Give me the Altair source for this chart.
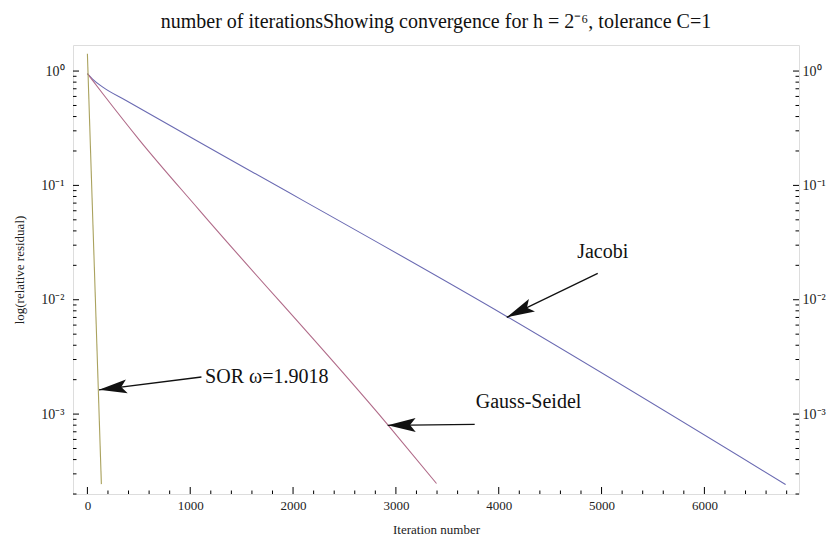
import math
import altair as alt
import pandas as pd

# ---------------- data ----------------
jacobi_it = [0, 50, 150, 380, 1030, 4074, 6790]
jacobi_res = [0.95, 0.851, 0.724, 0.550, 0.256, 0.00718, 0.000242]

gs_it = [0, 152, 508, 1090, 2924, 3395]
gs_res = [0.95, 0.630, 0.248, 0.0605, 0.00080, 0.000247]

sor_it = [0, 136]
sor_res = [1.42, 0.000244]

# annotations (data coordinates)
ann_text = ["Jacobi", "Gauss-Seidel", "SOR ω=1.9018"]
ann_text_it = [5011, 4290, 1744]
ann_text_res = [0.0260, 0.001265, 0.00209]
ann_tail_it = [4963, 3766, 1109]
ann_tail_res = [0.0170, 0.000813, 0.00211]
ann_tip_it = [4078, 2920, 113]
ann_tip_res = [0.00701, 0.000797, 0.00163]

xtick_major = [0, 1000, 2000, 3000, 4000, 5000, 6000]
xtick_minor = [v for v in range(200, 7000, 200) if v % 1000 != 0]
ytick_major = [1, 0.1, 0.01, 0.001]
ytick_labels = ["10⁰", "10⁻¹", "10⁻²", "10⁻³"]
ytick_minor = [k * 10.0 ** e for e in range(-4, 1) for k in range(2, 10)
               if 2.0e-4 <= k * 10.0 ** e <= 1.69]

title_text = "number of iterationsShowing convergence for h = 2⁻⁶, tolerance C=1"

# ---------------- layout ----------------
W, H = 726, 449
XDOM = [-140, 6920]
YDOM = [2.0e-4, 1.69]
FONT = "Liberation Serif"

xscale = alt.Scale(domain=XDOM, nice=False, zero=False)
yscale = alt.Scale(type="log", domain=YDOM, nice=False)


def px(i):
    return (i - XDOM[0]) / (XDOM[1] - XDOM[0]) * W


def py(r):
    lo, hi = math.log10(YDOM[0]), math.log10(YDOM[1])
    return (hi - math.log10(r)) / (hi - lo) * H


lines_df = pd.DataFrame(
    [{"it": a, "res": b, "method": "Jacobi"} for a, b in zip(jacobi_it, jacobi_res)]
    + [{"it": a, "res": b, "method": "Gauss-Seidel"} for a, b in zip(gs_it, gs_res)]
    + [{"it": a, "res": b, "method": "SOR"} for a, b in zip(sor_it, sor_res)]
)

label_expr = " : ".join(
    f"abs(log(datum.value)/log(10) - ({round(math.log10(v))})) < 0.01 ? '{l}'"
    for v, l in zip(ytick_major, ytick_labels)
) + " : ''"

lines = alt.Chart(lines_df).mark_line(strokeWidth=1.1, interpolate="monotone").encode(
    x=alt.X("it:Q", scale=xscale,
            axis=alt.Axis(values=xtick_major, ticks=False, domain=False, grid=False,
                          labelFont=FONT, labelFontSize=13, labelPadding=5,
                          labelColor="#222", format="d",
                          title="Iteration number", titleFont=FONT, titleFontSize=13,
                          titleFontWeight="normal", titlePadding=11, titleColor="#222")),
    y=alt.Y("res:Q", scale=yscale,
            axis=alt.Axis(values=ytick_major, labelExpr=label_expr, ticks=False,
                          domain=False, grid=False, labelFont=FONT, labelFontSize=14,
                          labelPadding=9, labelColor="#222",
                          title="log(relative residual)", titleFont=FONT,
                          titleFontSize=13, titleFontWeight="normal", titlePadding=14,
                          titleColor="#222")),
    color=alt.Color("method:N",
                    scale=alt.Scale(domain=["Jacobi", "Gauss-Seidel", "SOR"],
                                    range=["#6a6ab2", "#b06a88", "#aaa25e"]),
                    legend=None),
    detail="method:N",
)

# ticks (inward)
xt_df = pd.DataFrame({"v": xtick_major + xtick_minor,
                      "len": [7] * len(xtick_major) + [3.5] * len(xtick_minor)})
yt_df = pd.DataFrame({"v": ytick_major + ytick_minor,
                      "len": [6] * len(ytick_major) + [3.5] * len(ytick_minor)})

xticks_major = alt.Chart(xt_df[xt_df.len > 5]).mark_rule(color="black", strokeWidth=1).encode(
    x=alt.X("v:Q", scale=xscale, axis=None),
    y=alt.value(H), y2=alt.value(H - 7))
xticks_minor = alt.Chart(xt_df[xt_df.len < 5]).mark_rule(color="black", strokeWidth=1).encode(
    x=alt.X("v:Q", scale=xscale, axis=None),
    y=alt.value(H), y2=alt.value(H - 3.5))

yl_major = alt.Chart(yt_df[yt_df.len > 5]).mark_rule(color="black", strokeWidth=1).encode(
    y=alt.Y("v:Q", scale=yscale, axis=None), x=alt.value(0), x2=alt.value(6))
yl_minor = alt.Chart(yt_df[yt_df.len < 5]).mark_rule(color="black", strokeWidth=1).encode(
    y=alt.Y("v:Q", scale=yscale, axis=None), x=alt.value(0), x2=alt.value(3.5))
yr_major = alt.Chart(yt_df[yt_df.len > 5]).mark_rule(color="black", strokeWidth=1).encode(
    y=alt.Y("v:Q", scale=yscale,
            axis=alt.Axis(orient="right", values=ytick_major, labelExpr=label_expr,
                          ticks=False, domain=False, grid=False, labelFont=FONT,
                          labelFontSize=14, labelPadding=3, labelColor="#222",
                          title=None)),
    x=alt.value(W), x2=alt.value(W - 6))
yr_minor = alt.Chart(yt_df[yt_df.len < 5]).mark_rule(color="black", strokeWidth=1).encode(
    y=alt.Y("v:Q", scale=yscale, axis=None), x=alt.value(W), x2=alt.value(W - 3.5))

# annotations
angles = []
for ti, tr, hi, hr in zip(ann_tail_it, ann_tail_res, ann_tip_it, ann_tip_res):
    dx = px(hi) - px(ti)
    dy = py(hr) - py(tr)
    angles.append(math.degrees(math.atan2(dy, dx)) % 360)

ann_df = pd.DataFrame({
    "text": ann_text, "tx": ann_text_it, "ty": ann_text_res,
    "ax": ann_tail_it, "ay": ann_tail_res, "bx": ann_tip_it, "by": ann_tip_res,
    "ang": angles,
})

ann_text_layer = alt.Chart(ann_df).mark_text(font=FONT, fontSize=20, color="#111",
                                             align="center", baseline="middle").encode(
    x=alt.X("tx:Q", scale=xscale, axis=None),
    y=alt.Y("ty:Q", scale=yscale, axis=None),
    text="text:N")

ann_lines = alt.Chart(ann_df).mark_rule(color="#111", strokeWidth=1.3).encode(
    x=alt.X("ax:Q", scale=xscale, axis=None),
    y=alt.Y("ay:Q", scale=yscale, axis=None),
    x2="bx:Q", y2="by:Q")

ann_heads = alt.Chart(ann_df).mark_point(
    filled=True, color="#111", opacity=1, strokeWidth=0,
    shape="M0,0 L-2,-0.5 L-1.6,0 L-2,0.5 Z", size=784).encode(
    x=alt.X("bx:Q", scale=xscale, axis=None),
    y=alt.Y("by:Q", scale=yscale, axis=None),
    angle=alt.Angle("ang:Q", scale=None))

chart = alt.layer(
    lines, xticks_major, xticks_minor, yl_major, yl_minor, yr_major, yr_minor,
    ann_lines, ann_heads, ann_text_layer,
).resolve_axis(x="independent", y="independent").properties(
    width=W, height=H,
    title=alt.TitleParams(title_text, font=FONT, fontSize=20, fontWeight="normal",
                          anchor="middle", offset=13, color="#111"),
    padding={"left": 73, "top": 45, "right": 33, "bottom": 47},
    autosize=alt.AutoSizeParams(type="none"),
).configure_view(stroke="black", strokeWidth=1.2).configure(background="white")

chart.save("out.html", embed_options={"renderer": "svg", "actions": False})
